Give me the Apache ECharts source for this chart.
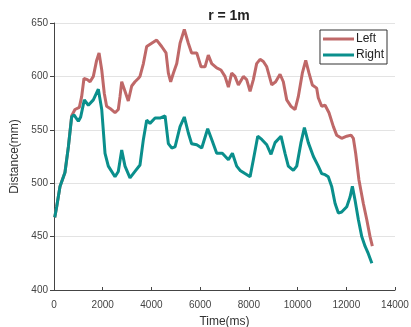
<!DOCTYPE html>
<html><head><meta charset="utf-8">
<script src="https://cdn.jsdelivr.net/npm/echarts@6/dist/echarts.min.js"></script>
<style>html,body{margin:0;padding:0;background:#fff}#c{width:411px;height:327px}</style>
</head><body><div id="c"></div>
<script>
var titleText = "r = 1m";
var xTicks = [0, 2000, 4000, 6000, 8000, 10000, 12000, 14000];
var yTicks = [400, 450, 500, 550, 600, 650];
var leftTime = [30,110,246,450,590,725,860,1040,1135,1230,1370,1480,1615,1750,1850,1960,2065,2160,2300,2505,2640,2710,2780,2915,3050,3190,3325,3460,3530,3670,3805,4010,4215,4420,4600,4695,4790,4900,5040,5175,5350,5515,5650,5860,6035,6200,6335,6475,6680,6855,7020,7160,7295,7430,7570,7775,7910,8050,8185,8320,8460,8595,8735,8940,9100,9280,9415,9555,9730,9895,10030,10195,10335,10470,10605,10785,10850,10990,11130,11290,11470,11605,11810,12020,12195,12290,12385,12520,12700,12840,12975,13070];
var leftDist = [468,478,497,510,534,563,569,571,581,598,597,595,600,615,622,606,584,572,570,566,569,581,595,586,577,591,595,598,600,612,628,631,634,628,622,603,595,603,612,631,644,631,622,622,609,609,620,612,608,606,600,590,603,600,592,600,597,586,597,612,616,614,609,592,595,602,595,578,572,569,581,603,615,603,592,589,580,572,573,566,553,545,542,544,545,542,528,503,481,466,450,441];
var rightTime = [30,110,246,450,590,725,820,1000,1095,1245,1410,1615,1820,1960,2095,2230,2505,2640,2780,2915,3120,3325,3530,3670,3805,3940,4150,4350,4560,4695,4830,4970,5175,5350,5515,5650,5860,6065,6310,6475,6680,6910,7160,7325,7500,7640,7840,8050,8185,8365,8530,8735,8910,9075,9320,9485,9620,9825,9965,10140,10280,10440,10650,10850,10990,11130,11260,11400,11540,11675,11810,12020,12155,12250,12360,12495,12635,12770,12905,13050];
var rightDist = [468,478,497,510,534,562,564,558,562,578,573,578,588,569,528,516,506,511,531,516,505,511,517,541,559,556,561,561,563,537,533,534,553,562,547,537,536,533,551,541,528,528,522,528,516,512,509,506,522,544,541,536,527,538,544,528,516,512,516,538,552,538,525,516,509,508,506,497,481,472,473,478,487,497,484,466,450,441,434,425];

function pairs(t, v) { return t.map(function (x, i) { return [x, v[i]]; }); }

var chart = echarts.init(document.getElementById('c'), null, {renderer: 'canvas'});
var ff = 'Liberation Sans, Arial, sans-serif';
chart.setOption({
  animation: false,
  backgroundColor: '#fff',
  title: {text: titleText, left: 224, textAlign: 'center', top: 4,
    textStyle: {fontFamily: ff, fontSize: 14, fontWeight: 'bold', color: '#222'}},
  grid: {left: 54, right: 16, top: 23, bottom: 37, containLabel: false, outerBoundsMode: 'none'},
  legend: {
    orient: 'vertical', right: 24, top: 30,
    data: [{name: 'Left', icon: 'rect'}, {name: 'Right', icon: 'rect'}],
    borderColor: '#333', borderWidth: 1, borderRadius: 0,
    padding: [2, 3, 2, 3], itemGap: 2, itemWidth: 31, itemHeight: 3,
    textStyle: {fontFamily: ff, fontSize: 12, color: '#222', lineHeight: 14, padding: [0, 0, 0, -3]}
  },
  xAxis: {
    type: 'value', min: 0, max: 14000, interval: 2000,
    name: 'Time(ms)', nameLocation: 'middle', nameGap: 26,
    nameTextStyle: {fontFamily: ff, fontSize: 12, color: '#333'},
    axisLine: {show: true, onZero: false, lineStyle: {color: '#444', width: 1}},
    axisTick: {show: true, inside: true, length: 3, lineStyle: {color: '#444'}},
    axisLabel: {fontFamily: ff, fontSize: 10, color: '#444', margin: 10,
      formatter: function (v) { return xTicks.indexOf(v) >= 0 ? String(v) : ''; }},
    splitLine: {show: false}
  },
  yAxis: {
    type: 'value', min: 400, max: 650, interval: 50,
    name: 'Distance(mm)', nameLocation: 'middle', nameGap: 29,
    nameTextStyle: {fontFamily: ff, fontSize: 12, color: '#333'},
    axisLine: {show: true, lineStyle: {color: '#444', width: 1}},
    axisTick: {show: true, inside: false, length: 4, lineStyle: {color: '#444'}},
    axisLabel: {fontFamily: ff, fontSize: 10, color: '#444', margin: 6,
      formatter: function (v) { return yTicks.indexOf(v) >= 0 ? String(v) : ''; }},
    splitLine: {show: true, lineStyle: {color: '#e3e3e3', width: 1}}
  },
  series: [
    {name: 'Left', type: 'line', data: pairs(leftTime, leftDist), symbol: 'none',
      lineStyle: {color: '#bf6868', width: 3}, itemStyle: {color: '#bf6868'}, z: 2},
    {name: 'Right', type: 'line', data: pairs(rightTime, rightDist), symbol: 'none',
      lineStyle: {color: '#0a8f8c', width: 3}, itemStyle: {color: '#0a8f8c'}, z: 3}
  ]
});
</script></body></html>
